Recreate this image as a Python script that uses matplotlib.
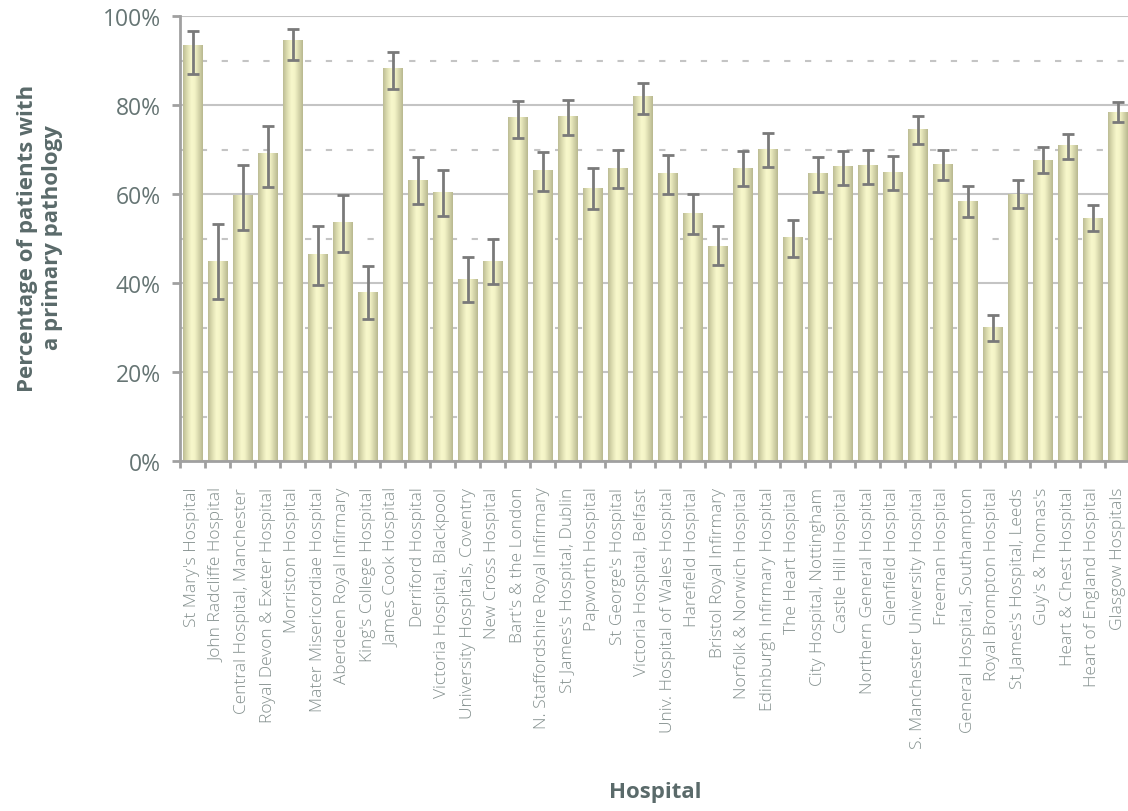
import numpy as np
import matplotlib
matplotlib.use('Agg')
from matplotlib import pyplot as plt
from matplotlib.colors import LinearSegmentedColormap

hospitals = [
    "St Mary's Hospital", "John Radcliffe Hospital", "Central Hospital, Manchester",
    "Royal Devon & Exeter Hospital", "Morriston Hospital", "Mater Misericordiae Hospital",
    "Aberdeen Royal Infirmary", "King's College Hospital", "James Cook Hospital",
    "Derriford Hospital", "Victoria Hospital, Blackpool", "University Hospitals, Coventry",
    "New Cross Hospital", "Bart's & the London", "N. Staffordshire Royal Infirmary",
    "St James's Hospital, Dublin", "Papworth Hospital", "St George's Hospital",
    "Victoria Hospital, Belfast", "Univ. Hospital of Wales Hospital", "Harefield Hospital",
    "Bristol Royal Infirmary", "Norfolk & Norwich Hospital", "Edinburgh Infirmary Hospital",
    "The Heart Hospital", "City Hospital, Nottingham", "Castle Hill Hospital",
    "Northern General Hospital", "Glenfield Hospital", "S. Manchester University Hospital",
    "Freeman Hospital", "General Hospital, Southampton", "Royal Brompton Hospital",
    "St James's Hospital, Leeds", "Guy's & Thomas's", "Heart & Chest Hospital",
    "Heart of England Hospital", "Glasgow Hospitals",
]

# percentage with primary pathology
pct = [93.3, 44.8, 59.6, 69.0, 94.6, 46.3, 53.5, 37.8, 88.3, 63.1,
       60.4, 40.7, 44.9, 77.1, 65.2, 77.5, 61.3, 65.8, 81.8, 64.5,
       55.7, 48.3, 65.8, 70.1, 50.2, 64.5, 66.1, 66.3, 64.9, 74.6,
       66.7, 58.4, 29.9, 59.9, 67.6, 70.8, 54.6, 78.4]

# confidence interval bounds
ci_low = [87.0, 36.3, 52.0, 61.5, 90.2, 39.6, 46.9, 31.8, 83.7, 57.7,
          55.0, 35.7, 39.8, 72.5, 60.6, 73.3, 56.6, 61.3, 77.9, 60.1,
          51.1, 44.0, 61.7, 66.0, 45.9, 60.5, 62.1, 62.2, 61.0, 71.2,
          63.1, 54.8, 26.9, 56.9, 64.7, 67.9, 51.7, 76.1]
ci_high = [96.6, 53.3, 66.6, 75.3, 97.1, 52.8, 59.8, 43.8, 91.8, 68.4,
           65.4, 45.9, 50.0, 81.0, 69.5, 81.1, 65.8, 69.9, 85.0, 68.8,
           60.0, 52.7, 69.7, 73.6, 54.2, 68.3, 69.7, 69.9, 68.6, 77.5,
           70.0, 61.7, 32.8, 63.1, 70.6, 73.5, 57.5, 80.7]

yticks = [0, 20, 40, 60, 80, 100]

pct = np.array(pct)
yerr = np.vstack([pct - np.array(ci_low), np.array(ci_high) - pct])
x = np.arange(len(hospitals))

fig = plt.figure(figsize=(11.28, 8.12), dpi=100)
ax = fig.add_axes([180/1128, 1 - 462/812, 950/1128, 445/812])

bars = ax.bar(x, pct, width=0.77, color='#e6e6b8', zorder=2)

# cylinder-like shading on each bar
shade = LinearSegmentedColormap.from_list(
    'shade', [(0, '#bdbd95'), (0.2, '#dcdcb0'), (0.42, '#f8f8cc'), (0.6, '#f3f3c6'), (0.85, '#cfcfa5'), (1, '#b9b990')])
grad = np.linspace(0, 1, 64).reshape(1, -1)
for b in bars:
    ax.imshow(grad, cmap=shade, aspect='auto', zorder=2.5,
              extent=[b.get_x(), b.get_x() + b.get_width(), 0, b.get_height()])

ax.errorbar(x, pct, yerr=yerr, fmt='none', ecolor='#7a7a7a', elinewidth=2.0,
            capsize=4.6, capthick=2.0, zorder=3)

ax.set_xlim(-0.5, len(hospitals) - 0.5)
ax.set_ylim(0, 100)

ax.set_yticks(yticks)
ax.set_yticklabels(['{}%'.format(t) for t in yticks])
ax.set_yticks([10, 30, 50, 70, 90], minor=True)
ax.grid(axis='y', which='major', color='#c4c4c4', linewidth=1.5, zorder=0)
ax.grid(axis='y', which='minor', color='#c4c4c4', linewidth=1.5,
        linestyle=(0, (3, 7)), zorder=0)
ax.set_axisbelow(True)

ax.set_xticks(x)
ax.set_xticklabels(hospitals, rotation=90, fontsize=12.5, fontfamily='Open Sans',
                   fontweight='light', color='#84908e', va='top')
ax.set_xticks(np.arange(-0.5, len(hospitals)), minor=True)
ax.tick_params(axis='x', which='major', length=0, pad=18.5)
ax.tick_params(axis='x', which='minor', length=5, width=2, color='#a0a0a0', direction='out')
ax.tick_params(axis='y', which='major', length=6, width=2, color='#a0a0a0', pad=8,
               labelsize=16.5, labelcolor='#667574')
ax.tick_params(axis='y', which='minor', length=0)
for lab in ax.get_yticklabels():
    lab.set_fontfamily('Open Sans')

for s in ['top', 'right']:
    ax.spines[s].set_visible(False)
for s in ['left', 'bottom']:
    ax.spines[s].set_color('#a0a0a0')
    ax.spines[s].set_linewidth(2)

fig.text(40/1128, 1 - 238/812, 'Percentage of patients with\na primary pathology',
         rotation=90, ha='center', va='center', multialignment='center',
         fontsize=16, fontweight='bold', fontfamily='Open Sans', color='#5a6a6a',
         linespacing=1.2)
fig.text(655/1128, 1 - 793/812, 'Hospital', ha='center', va='center',
         fontsize=16, fontweight='bold', fontfamily='Open Sans', color='#5a6a6a')

fig.savefig('out.png', dpi=100)
